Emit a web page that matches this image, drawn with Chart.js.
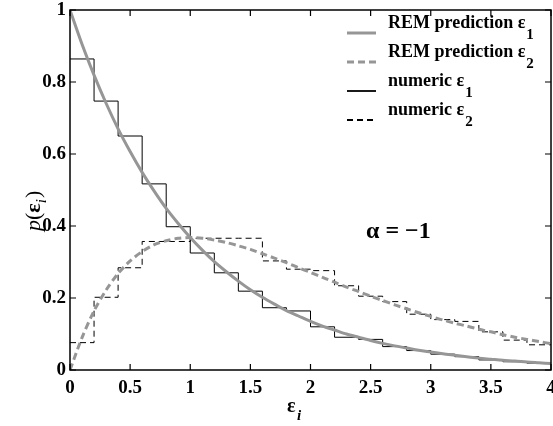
<!DOCTYPE html>
<html>
<head>
<meta charset="utf-8">
<script src="https://cdn.jsdelivr.net/npm/chart.js@4.4.1/dist/chart.umd.min.js"></script>
<style>body{margin:0;background:#fff}</style>
</head>
<body>
<canvas id="grafica" width="553" height="426"></canvas>
<script>
// Datos
const curvaX = [0,0.1,0.2,0.3,0.4,0.5,0.6,0.7,0.8,0.9,1,1.1,1.2,1.3,1.4,1.5,1.6,1.7,1.8,1.9,2,
  2.1,2.2,2.3,2.4,2.5,2.6,2.7,2.8,2.9,3,3.1,3.2,3.3,3.4,3.5,3.6,3.7,3.8,3.9,4];
const remE1 = [1.000,0.905,0.819,0.741,0.670,0.607,0.549,0.497,0.449,0.407,0.368,0.333,0.301,0.273,
  0.247,0.223,0.202,0.183,0.165,0.150,0.135,0.122,0.111,0.100,0.091,0.082,0.074,0.067,0.061,0.055,
  0.050,0.045,0.041,0.037,0.033,0.030,0.027,0.025,0.022,0.020,0.018];
const remE2 = [0.000,0.090,0.164,0.222,0.268,0.303,0.329,0.348,0.359,0.366,0.368,0.366,0.361,0.354,
  0.345,0.335,0.323,0.311,0.298,0.284,0.271,0.257,0.244,0.230,0.218,0.205,0.193,0.181,0.170,0.159,
  0.149,0.139,0.130,0.122,0.113,0.106,0.098,0.091,0.085,0.079,0.073];
// histogramas: bordes de los bins (ancho 0.2) y alturas
const bordesBins = [0,0.2,0.4,0.6,0.8,1,1.2,1.4,1.6,1.8,2,2.2,2.4,2.6,2.8,3,3.2,3.4,3.6,3.8,4];
const numE1 = [0.864,0.747,0.650,0.517,0.398,0.325,0.270,0.219,0.173,0.164,0.120,0.091,0.085,0.065,
  0.054,0.044,0.037,0.028,0.023,0.019];
const numE2 = [0.076,0.202,0.284,0.357,0.357,0.366,0.366,0.366,0.303,0.280,0.276,0.234,0.205,0.190,
  0.155,0.140,0.135,0.106,0.083,0.070];
const ticksX = [0,0.5,1,1.5,2,2.5,3,3.5,4];
const ticksY = [0,0.2,0.4,0.6,0.8,1];
const nombres = ['REM prediction ε','REM prediction ε','numeric ε','numeric ε'];
const subindices = ['1','2','1','2'];

const fuente = 'Liberation Serif';
const gris = 'rgb(150,150,150)';

const curva = ys => curvaX.map((x, i) => ({ x: x, y: ys[i] }));
const escalones = ys => bordesBins.map((x, i) => ({ x: x, y: ys[Math.min(i, ys.length - 1)] }));

/**
 * Texto con subíndice
 */
function textoSub(ctx, txt, sub, x, y, tam) {
    ctx.font = `bold ${tam}px "${fuente}"`;
    ctx.fillText(txt, x, y);
    const w = ctx.measureText(txt).width;
    ctx.font = `bold ${Math.round(tam * 0.85)}px "${fuente}"`;
    ctx.fillText(sub, x + w + 1, y + 11);
}

// marcas hacia dentro, caja, leyenda y rótulos
const adornos = {
    id: 'adornos',
    afterDraw(chart) {
        const { ctx, chartArea: a, scales: { x, y } } = chart;
        ctx.save();
        ctx.strokeStyle = '#000';
        ctx.lineWidth = 1.5;
        ctx.strokeRect(a.left, a.top, a.right - a.left, a.bottom - a.top);
        ctx.lineWidth = 1.2;
        ctx.beginPath();
        x.ticks.forEach(t => {
            const px = x.getPixelForValue(t.value);
            ctx.moveTo(px, a.bottom); ctx.lineTo(px, a.bottom - 6);
            ctx.moveTo(px, a.top); ctx.lineTo(px, a.top + 6);
        });
        y.ticks.forEach(t => {
            const py = y.getPixelForValue(t.value);
            ctx.moveTo(a.left, py); ctx.lineTo(a.left + 6, py);
            ctx.moveTo(a.right, py); ctx.lineTo(a.right - 6, py);
        });
        ctx.stroke();

        // leyenda
        ctx.fillStyle = '#000';
        ctx.textBaseline = 'alphabetic';
        ctx.textAlign = 'left';
        chart.data.datasets.forEach((ds, i) => {
            const base = 28 + i * 29;
            ctx.save();
            ctx.strokeStyle = ds.borderColor;
            ctx.lineWidth = Math.max(ds.borderWidth, 1.8);
            ctx.setLineDash(ds.borderDash || []);
            ctx.beginPath();
            ctx.moveTo(347, base + 5); ctx.lineTo(376, base + 5);
            ctx.stroke();
            ctx.restore();
            textoSub(ctx, nombres[i], subindices[i], 388, base, 18);
        });

        // alfa
        ctx.font = `bold 24px "${fuente}"`;
        ctx.fillText('α = −1', 366, 238);

        // título eje x
        ctx.font = `bold 20px "${fuente}"`;
        ctx.fillText('ε', 287, 412);
        ctx.font = `italic bold 15px "${fuente}"`;
        ctx.fillText('i', 297, 420);

        // título eje y
        ctx.translate(40, 206);
        ctx.rotate(-Math.PI / 2);
        let cx = -25;
        ctx.font = `italic 22px "${fuente}"`;
        ctx.fillText('p', cx, 0);
        cx += ctx.measureText('p').width;
        ctx.font = `22px "${fuente}"`;
        ctx.fillText('(', cx, 0);
        cx += ctx.measureText('(').width;
        ctx.font = `bold 22px "${fuente}"`;
        ctx.fillText('ε', cx, 0);
        cx += ctx.measureText('ε').width;
        ctx.font = `italic 15px "${fuente}"`;
        ctx.fillText('i', cx, 6);
        cx += ctx.measureText('i').width + 1;
        ctx.font = `22px "${fuente}"`;
        ctx.fillText(')', cx, 0);
        ctx.restore();
    }
};

new Chart(document.getElementById('grafica').getContext('2d'), {
    type: 'line',
    data: {
        datasets: [
            {
                label: 'REM prediction ε1',
                data: curva(remE1),
                borderColor: gris,
                borderWidth: 3,
                tension: 0.3
            },
            {
                label: 'REM prediction ε2',
                data: curva(remE2),
                borderColor: gris,
                borderWidth: 3,
                borderDash: [7, 4],
                tension: 0.3
            },
            {
                label: 'numeric ε1',
                data: escalones(numE1),
                borderColor: '#000',
                borderWidth: 1,
                stepped: 'before'
            },
            {
                label: 'numeric ε2',
                data: escalones(numE2),
                borderColor: '#000',
                borderWidth: 1,
                borderDash: [6, 4],
                stepped: 'before'
            }
        ]
    },
    options: {
        responsive: false,
        animation: false,
        layout: { padding: { top: 10, right: 2, left: 0, bottom: 0 } },
        elements: { point: { radius: 0 } },
        plugins: { legend: { display: false }, tooltip: { enabled: false } },
        scales: {
            x: {
                type: 'linear',
                min: 0,
                max: 4,
                afterBuildTicks: s => { s.ticks = ticksX.map(v => ({ value: v })); },
                afterFit: s => { s.height = 56; s.paddingLeft = 0; s.paddingRight = 0; },
                grid: { drawOnChartArea: false, drawTicks: false },
                border: { display: false },
                ticks: { color: '#000', padding: 7, maxRotation: 0, callback: v => String(v),
                    font: { family: fuente, size: 19, weight: 'bold' } }
            },
            y: {
                min: 0,
                max: 1,
                afterBuildTicks: s => { s.ticks = ticksY.map(v => ({ value: v })); },
                afterFit: s => { s.width = 70; s.paddingTop = 0; s.paddingBottom = 0; },
                grid: { drawOnChartArea: false, drawTicks: false },
                border: { display: false },
                ticks: { color: '#000', padding: 4, callback: v => String(v),
                    font: { family: fuente, size: 19, weight: 'bold' } }
            }
        }
    },
    plugins: [adornos]
});
</script>
</body>
</html>
